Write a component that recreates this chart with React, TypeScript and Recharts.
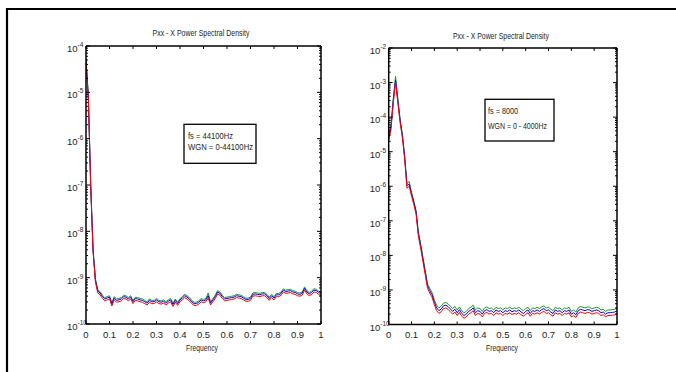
import React from 'react';
import { LineChart, Line, XAxis, YAxis } from 'recharts';

const FONT = "'Liberation Sans Narrow', 'Arial Narrow', 'Liberation Sans', Arial, sans-serif";
const TEXT = '#1e1e1e';
const GREEN = '#1f9a1f';
const BLUE = '#0000ff';
const RED = '#ff0000';

// normalized frequency (x values)
const freq = [
  0, 0.01, 0.02, 0.03, 0.04, 0.05, 0.06, 0.07, 0.08, 0.09,
  0.1, 0.11, 0.12, 0.13, 0.14, 0.15, 0.16, 0.17, 0.18, 0.19,
  0.2, 0.21, 0.22, 0.23, 0.24, 0.25, 0.26, 0.27, 0.28, 0.29,
  0.3, 0.31, 0.32, 0.33, 0.34, 0.35, 0.36, 0.37, 0.38, 0.39,
  0.4, 0.41, 0.42, 0.43, 0.44, 0.45, 0.46, 0.47, 0.48, 0.49,
  0.5, 0.51, 0.52, 0.53, 0.54, 0.55, 0.56, 0.57, 0.58, 0.59,
  0.6, 0.61, 0.62, 0.63, 0.64, 0.65, 0.66, 0.67, 0.68, 0.69,
  0.7, 0.71, 0.72, 0.73, 0.74, 0.75, 0.76, 0.77, 0.78, 0.79,
  0.8, 0.81, 0.82, 0.83, 0.84, 0.85, 0.86, 0.87, 0.88, 0.89,
  0.9, 0.91, 0.92, 0.93, 0.94, 0.95, 0.96, 0.97, 0.98, 0.99,
  1,
];

// Left panel (fs = 44100Hz): log10 of PSD
const leftGreen = [
  -4.27, -5.07, -6.97, -8.37, -9.02, -9.26, -9.30, -9.38, -9.43, -9.41,
  -9.39, -9.54, -9.41, -9.46, -9.45, -9.43, -9.38, -9.39, -9.43, -9.39,
  -9.49, -9.42, -9.43, -9.45, -9.46, -9.49, -9.52, -9.46, -9.49, -9.49,
  -9.45, -9.49, -9.50, -9.48, -9.52, -9.48, -9.45, -9.55, -9.46, -9.53,
  -9.45, -9.41, -9.36, -9.39, -9.43, -9.49, -9.53, -9.53, -9.50, -9.45,
  -9.47, -9.45, -9.33, -9.52, -9.45, -9.38, -9.28, -9.31, -9.38, -9.43,
  -9.42, -9.41, -9.40, -9.39, -9.36, -9.37, -9.38, -9.41, -9.44, -9.44,
  -9.42, -9.33, -9.32, -9.33, -9.34, -9.32, -9.32, -9.36, -9.42, -9.36,
  -9.41, -9.34, -9.34, -9.31, -9.24, -9.27, -9.26, -9.25, -9.28, -9.29,
  -9.32, -9.33, -9.31, -9.20, -9.28, -9.32, -9.29, -9.24, -9.25, -9.29,
  -9.32,
];
const leftBlue = [
  -4.30, -5.10, -7.00, -8.40, -9.05, -9.29, -9.33, -9.41, -9.46, -9.44,
  -9.42, -9.57, -9.44, -9.49, -9.48, -9.46, -9.41, -9.42, -9.46, -9.42,
  -9.52, -9.45, -9.46, -9.48, -9.49, -9.52, -9.55, -9.49, -9.52, -9.52,
  -9.48, -9.52, -9.53, -9.51, -9.55, -9.51, -9.48, -9.58, -9.49, -9.56,
  -9.48, -9.44, -9.39, -9.42, -9.46, -9.52, -9.56, -9.56, -9.53, -9.48,
  -9.50, -9.48, -9.39, -9.55, -9.48, -9.41, -9.31, -9.34, -9.41, -9.46,
  -9.45, -9.44, -9.43, -9.42, -9.39, -9.40, -9.41, -9.44, -9.47, -9.47,
  -9.45, -9.36, -9.35, -9.36, -9.37, -9.35, -9.35, -9.39, -9.45, -9.39,
  -9.44, -9.37, -9.37, -9.34, -9.27, -9.30, -9.29, -9.28, -9.31, -9.32,
  -9.35, -9.36, -9.34, -9.23, -9.31, -9.35, -9.32, -9.27, -9.28, -9.32,
  -9.35,
];
const leftRed = [
  -4.34, -5.14, -7.04, -8.44, -9.09, -9.33, -9.37, -9.45, -9.50, -9.48,
  -9.46, -9.61, -9.48, -9.53, -9.52, -9.50, -9.45, -9.46, -9.50, -9.46,
  -9.56, -9.49, -9.50, -9.52, -9.53, -9.56, -9.59, -9.53, -9.56, -9.56,
  -9.52, -9.56, -9.57, -9.55, -9.59, -9.55, -9.52, -9.62, -9.53, -9.60,
  -9.52, -9.48, -9.43, -9.46, -9.50, -9.56, -9.60, -9.60, -9.57, -9.52,
  -9.54, -9.52, -9.44, -9.59, -9.52, -9.45, -9.35, -9.38, -9.45, -9.50,
  -9.49, -9.48, -9.47, -9.46, -9.43, -9.44, -9.45, -9.48, -9.51, -9.51,
  -9.49, -9.40, -9.39, -9.40, -9.41, -9.39, -9.39, -9.43, -9.49, -9.43,
  -9.48, -9.41, -9.41, -9.38, -9.31, -9.34, -9.33, -9.32, -9.35, -9.36,
  -9.39, -9.40, -9.38, -9.27, -9.35, -9.39, -9.36, -9.31, -9.32, -9.36,
  -9.39,
];

// Right panel (fs = 8000): log10 of PSD
const rightGreen = [
  -4.49, -4.22, -3.46, -2.82, -3.46, -4.05, -4.50, -5.12, -5.92, -5.86,
  -6.17, -6.42, -6.70, -7.32, -7.66, -8.05, -8.43, -8.82, -8.96, -9.08,
  -9.29, -9.44, -9.52, -9.47, -9.38, -9.36, -9.40, -9.47, -9.54, -9.48,
  -9.58, -9.49, -9.60, -9.66, -9.62, -9.54, -9.50, -9.44, -9.58, -9.52,
  -9.54, -9.62, -9.52, -9.49, -9.54, -9.52, -9.58, -9.50, -9.54, -9.52,
  -9.58, -9.52, -9.54, -9.50, -9.55, -9.52, -9.54, -9.50, -9.56, -9.60,
  -9.54, -9.50, -9.60, -9.52, -9.54, -9.50, -9.54, -9.49, -9.46, -9.52,
  -9.50, -9.56, -9.60, -9.50, -9.54, -9.52, -9.58, -9.52, -9.54, -9.50,
  -9.62, -9.58, -9.64, -9.52, -9.48, -9.50, -9.52, -9.49, -9.50, -9.54,
  -9.52, -9.50, -9.52, -9.58, -9.56, -9.62, -9.58, -9.58, -9.57, -9.56,
  -9.52,
];
const rightBlue = [
  -4.58, -4.29, -3.52, -2.92, -3.52, -4.10, -4.54, -5.16, -5.98, -5.94,
  -6.22, -6.47, -6.75, -7.38, -7.72, -8.11, -8.49, -8.88, -9.02, -9.14,
  -9.36, -9.52, -9.60, -9.55, -9.46, -9.44, -9.48, -9.55, -9.62, -9.56,
  -9.66, -9.57, -9.68, -9.74, -9.70, -9.62, -9.58, -9.52, -9.66, -9.60,
  -9.62, -9.70, -9.60, -9.57, -9.62, -9.60, -9.66, -9.58, -9.62, -9.60,
  -9.66, -9.60, -9.62, -9.58, -9.63, -9.60, -9.62, -9.58, -9.64, -9.68,
  -9.62, -9.58, -9.68, -9.60, -9.62, -9.58, -9.62, -9.57, -9.54, -9.60,
  -9.58, -9.64, -9.68, -9.58, -9.62, -9.60, -9.66, -9.60, -9.62, -9.58,
  -9.70, -9.66, -9.72, -9.60, -9.56, -9.58, -9.60, -9.57, -9.58, -9.62,
  -9.60, -9.58, -9.60, -9.66, -9.64, -9.70, -9.66, -9.66, -9.65, -9.64,
  -9.60,
];
const rightRed = [
  -4.68, -4.36, -3.60, -2.99, -3.58, -4.16, -4.60, -5.22, -6.06, -6.00,
  -6.28, -6.53, -6.81, -7.45, -7.79, -8.18, -8.56, -8.95, -9.09, -9.21,
  -9.43, -9.60, -9.68, -9.63, -9.54, -9.52, -9.56, -9.63, -9.70, -9.64,
  -9.74, -9.65, -9.76, -9.82, -9.78, -9.70, -9.66, -9.60, -9.74, -9.68,
  -9.70, -9.78, -9.68, -9.65, -9.70, -9.68, -9.74, -9.66, -9.70, -9.68,
  -9.74, -9.68, -9.70, -9.66, -9.71, -9.68, -9.70, -9.66, -9.72, -9.76,
  -9.70, -9.66, -9.76, -9.68, -9.70, -9.66, -9.70, -9.65, -9.62, -9.68,
  -9.66, -9.72, -9.76, -9.66, -9.70, -9.68, -9.74, -9.68, -9.70, -9.66,
  -9.78, -9.74, -9.80, -9.68, -9.64, -9.66, -9.68, -9.65, -9.66, -9.70,
  -9.68, -9.66, -9.68, -9.74, -9.72, -9.78, -9.74, -9.74, -9.73, -9.72,
  -9.68,
];

const xTickValues = [0, 0.1, 0.2, 0.3, 0.4, 0.5, 0.6, 0.7, 0.8, 0.9, 1];
const xTickLabels = ['0', '0.1', '0.2', '0.3', '0.4', '0.5', '0.6', '0.7', '0.8', '0.9', '1'];
const leftDecades = [-10, -9, -8, -7, -6, -5, -4];
const rightDecades = [-10, -9, -8, -7, -6, -5, -4, -3, -2];
const minorMultipliers = [2, 3, 4, 5, 6, 7, 8, 9];

const titleText = 'Pxx - X Power Spectral Density';
const xAxisTitle = 'Frequency';
const leftNote = ['fs = 44100Hz', 'WGN = 0-44100Hz'];
const rightNote = ['fs = 8000', 'WGN = 0 - 4000Hz'];

function buildYTicks(decades: number[]) {
  const t: number[] = [...decades];
  for (let i = 0; i < decades.length - 1; i++) {
    for (const m of minorMultipliers) t.push(decades[i] + Math.log10(m));
  }
  return t.sort((a, b) => a - b);
}

function buildRows(g: number[], b: number[], r: number[]) {
  return freq.map((f, i) => ({ f, green: g[i], blue: b[i], red: r[i] }));
}

const isMajor = (v: number) => Math.abs(v - Math.round(v)) < 1e-6;

const LeftTick = (props: any) => {
  const { x, y, payload } = props;
  const v = payload.value;
  const major = isMajor(v);
  return (
    <g>
      <line x1={x} y1={y} x2={x + (major ? 4 : 2)} y2={y} stroke="#000" strokeWidth={1} />
      {major && (
        <text x={x - 19} y={y + 6} fontFamily={FONT} fontSize={9.5} fill={TEXT}>
          10
          <tspan dy={-5} fontSize={6.5}>{String(Math.round(v))}</tspan>
        </text>
      )}
    </g>
  );
};

const RightTick = (props: any) => {
  const { x, y, payload } = props;
  const major = isMajor(payload.value);
  return <line x1={x} y1={y} x2={x - (major ? 4 : 2)} y2={y} stroke="#000" strokeWidth={1} />;
};

const BottomTick = (props: any) => {
  const { x, y, payload } = props;
  const idx = xTickValues.findIndex((t) => Math.abs(t - payload.value) < 1e-9);
  return (
    <g>
      <line x1={x} y1={y} x2={x} y2={y - 3} stroke="#000" strokeWidth={1} />
      <text x={x} y={y + 13.5} textAnchor="middle" fontFamily={FONT} fontSize={9.5} fill={TEXT}>
        {idx >= 0 ? xTickLabels[idx] : ''}
      </text>
    </g>
  );
};

const TopTick = (props: any) => {
  const { x, y } = props;
  return <line x1={x} y1={y} x2={x} y2={y + 3} stroke="#000" strokeWidth={1} />;
};

const axisLine = { stroke: '#000', strokeWidth: 1.5 };

function PsdPanel(props: {
  rows: any[];
  decades: number[];
  width: number;
  height: number;
  margin: { top: number; right: number; bottom: number; left: number };
  left: number;
}) {
  const { rows, decades, width, height, margin, left } = props;
  const yTicks = buildYTicks(decades);
  const yDomain = [decades[0], decades[decades.length - 1]];
  return (
    <div style={{ position: 'absolute', left, top: 0, width, height }}>
      <LineChart width={width} height={height} data={rows} margin={margin} style={{ overflow: 'visible' }}>
        <XAxis
          xAxisId="b"
          dataKey="f"
          type="number"
          domain={[0, 1]}
          allowDataOverflow
          ticks={xTickValues}
          interval={0}
          height={1}
          tickSize={0}
          tickMargin={0}
          tickLine={false}
          axisLine={axisLine}
          tick={BottomTick}
        />
        <XAxis
          xAxisId="t"
          orientation="top"
          dataKey="f"
          type="number"
          domain={[0, 1]}
          allowDataOverflow
          ticks={xTickValues}
          interval={0}
          height={1}
          tickSize={0}
          tickMargin={0}
          tickLine={false}
          axisLine={axisLine}
          tick={TopTick}
        />
        <YAxis
          yAxisId="l"
          type="number"
          domain={yDomain}
          allowDataOverflow
          ticks={yTicks}
          interval={0}
          width={1}
          tickSize={0}
          tickMargin={0}
          tickLine={false}
          axisLine={axisLine}
          tick={LeftTick}
        />
        <YAxis
          yAxisId="r"
          orientation="right"
          type="number"
          domain={yDomain}
          allowDataOverflow
          ticks={yTicks}
          interval={0}
          width={1}
          tickSize={0}
          tickMargin={0}
          tickLine={false}
          axisLine={axisLine}
          tick={RightTick}
        />
        <Line xAxisId="b" yAxisId="l" type="linear" dataKey="green" stroke={GREEN} strokeWidth={1} dot={false} isAnimationActive={false} />
        <Line xAxisId="b" yAxisId="l" type="linear" dataKey="blue" stroke={BLUE} strokeWidth={1} dot={false} isAnimationActive={false} />
        <Line xAxisId="b" yAxisId="l" type="linear" dataKey="red" stroke={RED} strokeWidth={1} dot={false} isAnimationActive={false} />
      </LineChart>
    </div>
  );
}

export default function App() {
  const leftRows = buildRows(leftGreen, leftBlue, leftRed);
  const rightRows = buildRows(rightGreen, rightBlue, rightRed);
  return (
    <div style={{ position: 'absolute', left: 0, top: 0, width: 676, height: 372, background: '#fff', overflow: 'hidden' }}>
      <PsdPanel rows={leftRows} decades={leftDecades} left={0} width={340} height={372}
        margin={{ top: 45, right: 18, bottom: 47, left: 85 }} />
      <PsdPanel rows={rightRows} decades={rightDecades} left={340} width={336} height={372}
        margin={{ top: 47, right: 58, bottom: 46.5, left: 47.7 }} />
      <svg width={676} height={372} style={{ position: 'absolute', left: 0, top: 0, pointerEvents: 'none' }}>
        <line x1={7} y1={9} x2={676} y2={9} stroke="#000" strokeWidth={2.2} />
        <line x1={7} y1={8} x2={7} y2={372} stroke="#000" strokeWidth={2.2} />
        <text x={201} y={36} textAnchor="middle" fontFamily={FONT} fontSize={8.8} fill={TEXT}
          textLength={97} lengthAdjust="spacingAndGlyphs">{titleText}</text>
        <text x={501} y={38.5} textAnchor="middle" fontFamily={FONT} fontSize={8.8} fill={TEXT}
          textLength={96} lengthAdjust="spacingAndGlyphs">{titleText}</text>
        <text x={202} y={350.5} textAnchor="middle" fontFamily={FONT} fontSize={9} fill={TEXT}
          textLength={32} lengthAdjust="spacingAndGlyphs">{xAxisTitle}</text>
        <text x={502} y={350.5} textAnchor="middle" fontFamily={FONT} fontSize={9} fill={TEXT}
          textLength={32} lengthAdjust="spacingAndGlyphs">{xAxisTitle}</text>
        <rect x={184} y={124.3} width={72} height={39} fill="#fff" stroke="#000" strokeWidth={1.3} />
        <text x={188} y={139} fontFamily={FONT} fontSize={9} fill={TEXT}
          textLength={45} lengthAdjust="spacingAndGlyphs">{leftNote[0]}</text>
        <text x={188} y={150} fontFamily={FONT} fontSize={9} fill={TEXT}
          textLength={65} lengthAdjust="spacingAndGlyphs">{leftNote[1]}</text>
        <rect x={485} y={99.3} width={69} height={41.7} fill="#fff" stroke="#000" strokeWidth={1.3} />
        <text x={488} y={114} fontFamily={FONT} fontSize={9} fill={TEXT}
          textLength={30} lengthAdjust="spacingAndGlyphs">{rightNote[0]}</text>
        <text x={488} y={129} fontFamily={FONT} fontSize={9} fill={TEXT}
          textLength={59} lengthAdjust="spacingAndGlyphs">{rightNote[1]}</text>
      </svg>
    </div>
  );
}
